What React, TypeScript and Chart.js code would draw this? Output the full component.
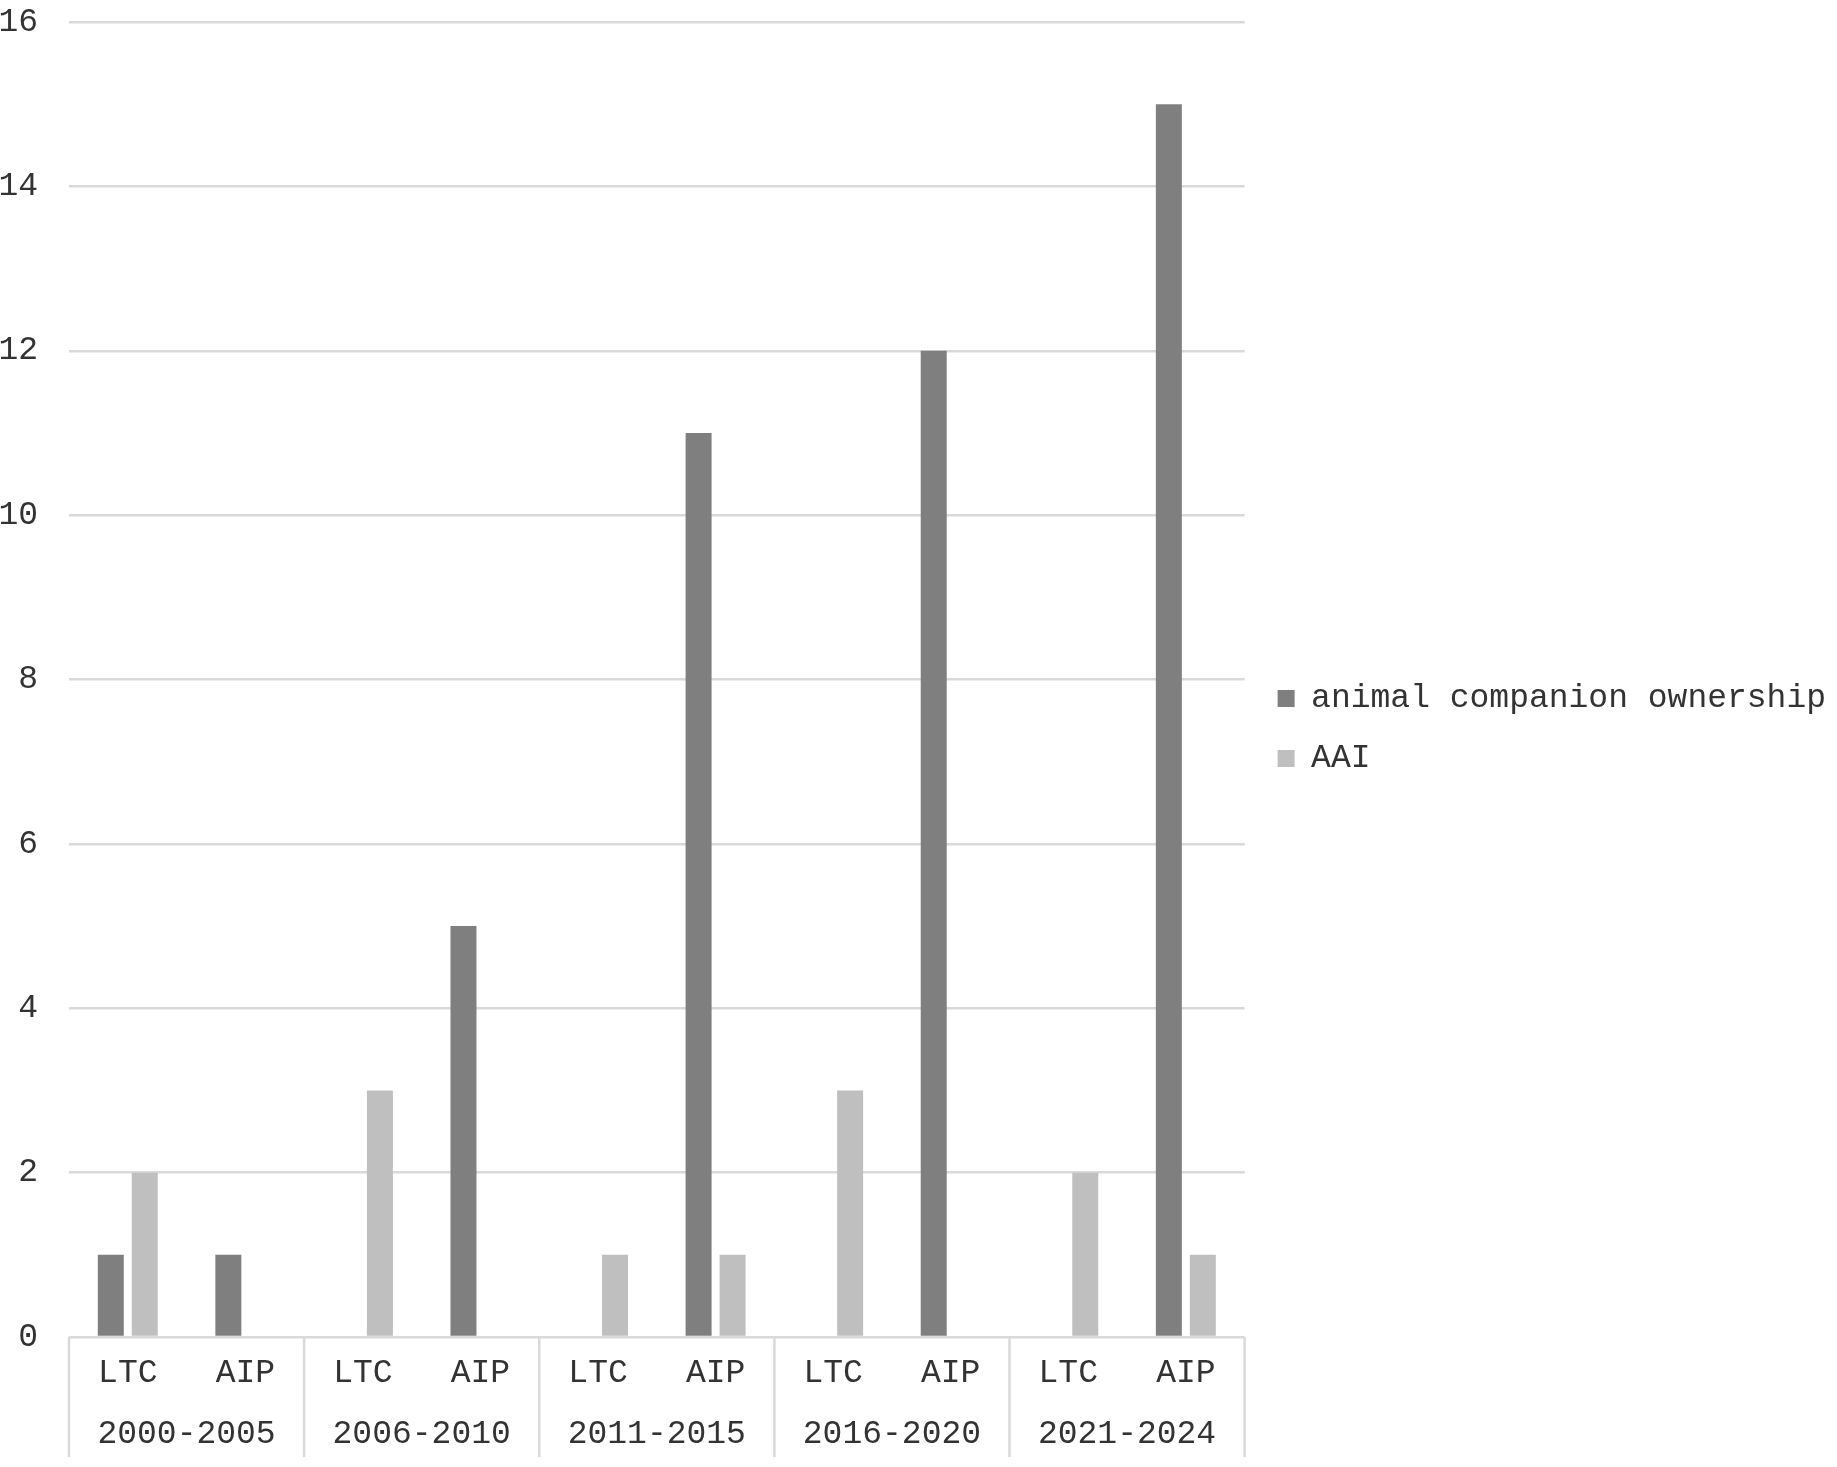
import { useEffect, useRef } from 'react';
import { Chart, registerables } from 'chart.js';

Chart.register(...registerables);

const subLabels = ['LTC', 'AIP', 'LTC', 'AIP', 'LTC', 'AIP', 'LTC', 'AIP', 'LTC', 'AIP'];
const periods = ['2000-2005', '2006-2010', '2011-2015', '2016-2020', '2021-2024'];
const ownership = [1, 1, 0, 5, 0, 11, 0, 12, 0, 15];
const aai = [2, 0, 3, 0, 1, 1, 3, 0, 2, 1];
const yTicks = [0, 2, 4, 6, 8, 10, 12, 14, 16];

const FONT = "'Liberation Mono', 'Courier New', monospace";
const TEXT = '#333333';
const GRID = '#d9d9d9';

// vertical separators under the axis, at the period boundaries
const separators = {
  id: 'separators',
  afterDraw(chart: any) {
    const x2 = chart.scales.x2;
    const area = chart.chartArea;
    if (!x2) return;
    const step = x2.getPixelForValue(1) - x2.getPixelForValue(0);
    const ctx = chart.ctx;
    ctx.save();
    ctx.strokeStyle = GRID;
    ctx.lineWidth = 2.5;
    for (let i = 0; i <= periods.length; i++) {
      const px = x2.getPixelForValue(i) - step / 2;
      ctx.beginPath();
      ctx.moveTo(px, area.bottom);
      ctx.lineTo(px, x2.bottom);
      ctx.stroke();
    }
    ctx.restore();
  },
};

// nudge the legend block a little right and up
const legendNudge = {
  id: 'legendNudge',
  afterLayout(chart: any) {
    const lg = chart.legend;
    if (!lg) return;
    lg.left += 6;
    lg.right += 6;
    lg.top -= 11;
    lg.bottom -= 11;
  },
};

export default function App() {
  const chartRef = useRef<HTMLCanvasElement>(null);
  const chartInstance = useRef<Chart | null>(null);

  useEffect(() => {
    document.body.style.margin = '0';
    if (!chartRef.current) return;
    const ctx = chartRef.current.getContext('2d');
    if (!ctx) return;
    if (chartInstance.current) chartInstance.current.destroy();

    chartInstance.current = new Chart(ctx, {
      type: 'bar',
      data: {
        labels: subLabels,
        datasets: [
          {
            label: 'animal companion ownership',
            data: ownership,
            backgroundColor: '#7f7f7f',
            categoryPercentage: 0.578,
            barPercentage: 0.765,
          },
          {
            label: 'AAI',
            data: aai,
            backgroundColor: '#bfbfbf',
            categoryPercentage: 0.578,
            barPercentage: 0.765,
          },
        ],
      },
      options: {
        animation: false,
        responsive: true,
        maintainAspectRatio: false,
        layout: { padding: { top: 22, bottom: 10, left: 0, right: 7 } },
        plugins: {
          tooltip: { enabled: false },
          legend: {
            position: 'right',
            maxWidth: 600,
            labels: {
              boxWidth: 17,
              boxHeight: 17,
              padding: 27,
              color: TEXT,
              font: { family: FONT, size: 33 },
            },
          },
        },
        scales: {
          y: {
            min: 0,
            max: 16,
            afterFit: (scale: any) => {
              scale.width = 69;
              scale.paddingTop = 20;
              scale.paddingBottom = 20;
            },
            afterBuildTicks: (scale: any) => {
              scale.ticks = yTicks.map((v) => ({ value: v }));
            },
            grid: { color: GRID, lineWidth: 2.5, drawTicks: false },
            border: { display: false },
            ticks: { padding: 31, color: TEXT, font: { family: FONT, size: 33 } },
          },
          x: {
            afterFit: (scale: any) => {
              scale.height = 58;
            },
            grid: { display: false },
            border: { display: false },
            ticks: { padding: 8, color: TEXT, maxRotation: 0, autoSkip: false, font: { family: FONT, size: 33 } },
          },
          x2: {
            type: 'category',
            labels: periods,
            position: 'bottom',
            offset: true,
            afterFit: (scale: any) => {
              scale.height = 62;
            },
            grid: { display: false },
            border: { display: false },
            ticks: { padding: 11, color: TEXT, maxRotation: 0, autoSkip: false, font: { family: FONT, size: 33 } },
          },
        },
      },
      plugins: [separators, legendNudge],
    } as any);

    return () => {
      if (chartInstance.current) {
        chartInstance.current.destroy();
        chartInstance.current = null;
      }
    };
  }, []);

  return (
    <div style={{ position: 'relative', width: 1837, height: 1467, background: '#ffffff' }}>
      <canvas ref={chartRef}></canvas>
    </div>
  );
}
